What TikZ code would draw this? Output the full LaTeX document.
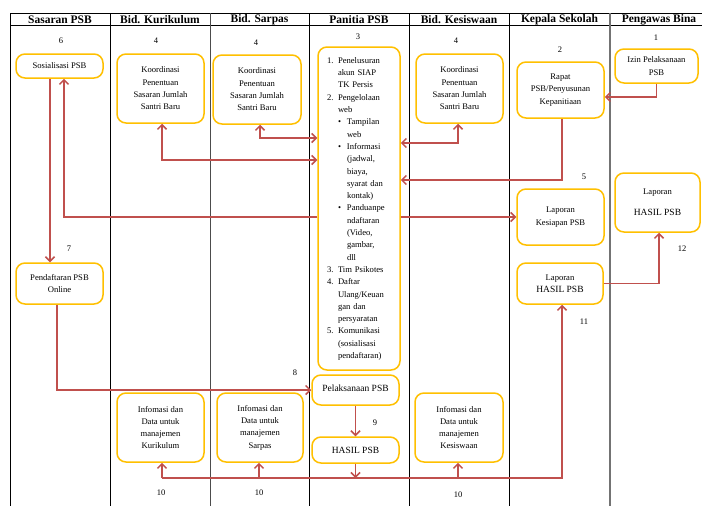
\documentclass[tikz,border=0pt]{standalone}
\usepackage{fontspec}
\setmainfont{Liberation Serif}
\usetikzlibrary{arrows.meta,calc}
\definecolor{boxc}{HTML}{FFC000}
\definecolor{arrc}{HTML}{C0504D}
\begin{document}
\begin{tikzpicture}[x=1pt,y=-1pt,
  >={Straight Barb[length=4.5pt,width=9pt,line width=1.5pt]},
  box/.style={draw=boxc, line width=1.5pt, rounded corners=9pt, fill=white, align=center,
    font=\fontsize{8.6}{12.3}\selectfont, inner sep=0pt},
  flow/.style={draw=arrc, line width=1.6pt, ->},
  both/.style={draw=arrc, line width=1.6pt, <->},
  num/.style={font=\fontsize{8.5}{10}\selectfont, inner sep=0pt},
  hdr/.style={font=\fontsize{11.5}{12}\selectfont\bfseries, inner sep=0pt},
  tab/.style={draw=black, line width=0.9pt},
]
\fill[white] (0,0) rectangle (702,506);
\useasboundingbox (0,0) rectangle (702,506);
\clip (0,0) rectangle (702,506);

% table
\draw[tab] (10,13) -- (710,13);
\draw[tab] (10,25) -- (710,25);
\foreach \x in {10,110,309,409,509} \draw[tab] (\x,13) -- (\x,506);
\draw[draw=black!70, line width=1pt] (210,13) -- (210,506);
\draw[draw=black!55, line width=1.8pt] (610,13) -- (610,506);

\node[hdr] (h1) at (60,19.5) {Sasaran PSB};
\node[hdr] (h2) at (160,19.5) {Bid. Kurikulum};
\node[hdr] (h3) at (259.5,19.5) {Bid. Sarpas};
\node[hdr] (h4) at (359,19.5) {Panitia PSB};
\node[hdr] (h5) at (459,19.5) {Bid. Kesiswaan};
\node[hdr] (h6) at (559.5,19.5) {Kepala Sekolah};
\node[hdr] (h7) at (659,19.5) {Pengawas Bina};

% boxes
\node[box, minimum width=87pt, minimum height=24pt] (sos) at (59.5,66) {Sosialisasi PSB};
\node[box, minimum width=87pt, minimum height=69pt] (kur) at (160.5,88.5) {Koordinasi\\Penentuan\\Sasaran Jumlah\\Santri Baru};
\node[box, minimum width=88pt, minimum height=69pt] (sar) at (257,89.5) {Koordinasi\\Penentuan\\Sasaran Jumlah\\Santri Baru};
\node[box, minimum width=82pt, minimum height=323pt, text width=64pt, align=left, inner xsep=9pt] (pan) at (359,208.5) {%
\begin{tabular}{@{}p{11pt}@{}l@{}}
1. & Penelusuran\\
   & akun SIAP\\
   & TK Persis\\
2. & Pengelolaan\\
   & web\\
   & \makebox[9pt][l]{\textbullet}Tampilan\\
   & \hspace{9pt}web\\
   & \makebox[9pt][l]{\textbullet}Informasi\\
   & \hspace{9pt}(jadwal,\\
   & \hspace{9pt}biaya,\\
   & \hspace{9pt}syarat dan\\
   & \hspace{9pt}kontak)\\
   & \makebox[9pt][l]{\textbullet}Panduanpe\\
   & \hspace{9pt}ndaftaran\\
   & \hspace{9pt}(Video,\\
   & \hspace{9pt}gambar,\\
   & \hspace{9pt}dll\\
3. & Tim Psikotes\\
4. & Daftar\\
   & Ulang/Keuan\\
   & gan dan\\
   & persyaratan\\
5. & Komunikasi\\
   & (sosialisasi\\
   & pendaftaran)
\end{tabular}};
\node[box, minimum width=87pt, minimum height=69pt] (kes) at (459.5,88.5) {Koordinasi\\Penentuan\\Sasaran Jumlah\\Santri Baru};
\node[box, minimum width=87pt, minimum height=56pt] (rap) at (560.5,90) {Rapat\\PSB/Penyusunan\\Kepanitiaan};
\node[box, minimum width=83pt, minimum height=34pt] (izin) at (656.5,66) {Izin Pelaksanaan\\PSB};
\node[box, minimum width=87pt, minimum height=56pt] (kesiap) at (560.5,217) {Laporan\\Kesiapan PSB};
\node[box, minimum width=85pt, minimum height=59pt] (lhr) at (657.5,202.5) {Laporan\\[8.7pt]{\fontsize{9.5}{12}\selectfont HASIL PSB}};
\node[box, minimum width=86pt, minimum height=41pt] (lhk) at (560,283.5) {Laporan\\{\fontsize{9.5}{12}\selectfont HASIL PSB}};
\node[box, minimum width=87pt, minimum height=41pt] (pend) at (59.5,283.5) {Pendaftaran PSB\\Online};
\node[box, minimum width=87pt, minimum height=30pt, font=\fontsize{9.5}{12}\selectfont] (pel) at (355.5,390) {\raisebox{3pt}{Pelaksanaan PSB}};
\node[box, minimum width=87pt, minimum height=26pt, font=\fontsize{9.5}{12}\selectfont] (has) at (355.5,450) {HASIL PSB};
\node[box, minimum width=87pt, minimum height=69pt] (ik) at (160.5,427.5) {Infomasi dan\\Data untuk\\manajemen\\Kurikulum};
\node[box, minimum width=86pt, minimum height=69pt] (is) at (260,427.5) {Infomasi dan\\Data untuk\\manajemen\\Sarpas};
\node[box, minimum width=88pt, minimum height=69pt] (ike) at (459,427.5) {Infomasi dan\\Data untuk\\manajemen\\Kesiswaan};

% numbers
\node[num] (n6) at (61,41) {6};
\node[num] (n4a) at (156,41) {4};
\node[num] (n4b) at (256,43) {4};
\node[num] (n3) at (358,37) {3};
\node[num] (n4c) at (456,41) {4};
\node[num] (n2) at (560,50) {2};
\node[num] (n1) at (656,38) {1};
\node[num] (n5) at (584,177) {5};
\node[num] (n12) at (682,249) {12};
\node[num] (n11) at (584,322) {11};
\node[num] (n7) at (69,249) {7};
\node[num] (n8) at (295,373) {8};
\node[num] (n9) at (375,423) {9};
\node[num] (n10a) at (161,493) {10};
\node[num] (n10b) at (259,493) {10};
\node[num] (n10c) at (458,495) {10};

% connectors
\coordinate (bus) at (0,478);
\draw[flow] (izin.south) |- ($(rap.east)+(0,7)$);
\draw[flow] ($(rap.south)+(1.5,0)$) |- ($(pan.east)+(0,-28.5)$);
\draw[both] ($(kes.south)+(-1.5,0)$) |- ($(pan.east)+(0,-65.5)$);
\draw[both] ($(sar.south)+(3,0)$) |- ($(pan.west)+(0,-70.5)$);
\draw[both] ($(kur.south)+(1.5,0)$) |- ($(pan.west)+(0,-48.5)$);
\draw[flow] (pan.west |- kesiap.west) -| ($(sos.south)+(4.5,0)$);
\draw[flow] (pan.east |- kesiap.west) -- (kesiap.west);
\draw[flow] ($(sos.south)+(-9.5,0)$) -- ($(pend.north)+(-9.5,0)$);
\draw[flow] ($(pend.south)+(-2.5,0)$) |- (pel.west);
\draw[flow] (pel.south) -- (has.north);
\draw[flow] (has.south) -- (has.south |- bus);
\draw[flow] ($(ik.south |- bus)+(1.5,0)$) -| ($(lhk.south)+(2,0)$);
\draw[flow] ($(ik.south |- bus)+(1.5,0)$) -- ($(ik.south)+(1.5,0)$);
\draw[flow] ($(is.south |- bus)+(-1,0)$) -- ($(is.south)+(-1,0)$);
\draw[flow] ($(ike.south |- bus)+(-1,0)$) -- ($(ike.south)+(-1,0)$);
\draw[flow] (lhk.east) -| ($(lhr.south)+(1.5,0)$);
\end{tikzpicture}
\end{document}
